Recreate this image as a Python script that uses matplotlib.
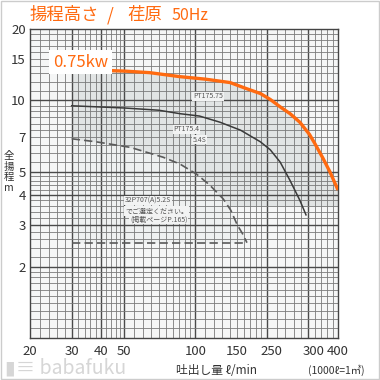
import numpy as np
import matplotlib
matplotlib.use("Agg")
import matplotlib.pyplot as plt

plt.rcParams['font.family'] = ['Noto Sans CJK JP', 'DejaVu Sans']

# ---- data ----
orange_x = [30, 40, 50, 64, 86, 110, 140, 165, 188, 207, 228, 251, 276, 303, 319, 346, 370, 400]
orange_y = [13.5, 13.4, 13.3, 13.1, 12.6, 12.3, 11.9, 11.2, 10.7, 10.1, 9.4, 8.8, 8.1, 7.2, 6.6, 5.7, 5.0, 4.2]

pt4_x = [30, 50, 70, 86, 104, 127, 155, 188, 207, 228, 251, 276, 293]
pt4_y = [9.5, 9.3, 9.1, 8.8, 8.6, 8.1, 7.5, 6.7, 6.2, 5.5, 4.6, 3.8, 3.3]

p32_x = [30, 38, 53, 73, 86, 101, 115, 131, 141, 150, 158, 165]
p32_y = [6.9, 6.7, 6.35, 5.77, 5.4, 4.9, 4.4, 3.85, 3.45, 3.0, 2.75, 2.52]
p32_floor = 2.52

shade_floor = 3.6

xtick_pos = [20, 30, 40, 50, 100, 150, 210, 315, 400]
xtick_labels = ['20', '30', '40', '50', '100', '150', '250', '300', '400']
ytick_vals = [20, 15, 10, 7, 5, 4, 3, 2]
ytick_labels = ['20', '15', '10', '7', '5', '4', '3', '2']

title_parts = ['揚程高さ', '/', '荏原', '50Hz']
power_label = '0.75kw'
ylabel = '全\n揚\n程\nm'
xlabel = '吐出し量 ℓ/min'
unit_note = '(1000ℓ=1㎥)'

ORANGE = '#ff6a10'

# ---- figure ----
fig = plt.figure(figsize=(3.8, 3.8), dpi=100)
ax = fig.add_axes([30/380, 42/380, 308/380, 309/380])
ax.set_xscale('log')
ax.set_yscale('log')
ax.set_xlim(20, 400)
ax.set_ylim(1, 20)
ax.set_facecolor('#f5f6f6')

# shaded selection region
ax.fill_between(orange_x, shade_floor, orange_y, color='#e1e4e4', zorder=0.5, lw=0)
ax.fill_between(p32_x, p32_floor, p32_y, color='#eef0f0', zorder=0.6, lw=0)

# grid (graph paper)
vminor = list(np.arange(20, 50, 2)) + list(np.arange(50, 100, 5)) + \
    list(np.arange(100, 200, 10)) + list(np.arange(200, 401, 20))
for v in vminor:
    ax.axvline(v, color='#7a7a7a', lw=0.6, zorder=1)
for v in [30, 40, 50, 100, 200, 300]:
    ax.axvline(v, color='#4a4a4a', lw=1.0, zorder=1)
hminor = list(np.arange(1, 2, 0.1)) + list(np.arange(2, 5, 0.2)) + \
    list(np.arange(5, 10, 0.5)) + list(np.arange(10, 20.01, 1))
for h in hminor:
    ax.axhline(h, color='#7a7a7a', lw=0.6, zorder=1)
for h in [2, 3, 4, 5, 10]:
    ax.axhline(h, color='#4a4a4a', lw=1.0, zorder=1)

# curves
ax.plot(p32_x, p32_y, color='#5a5a5a', lw=1.2, ls=(0, (5, 2.5)), zorder=3)
ax.plot([p32_x[0], p32_x[-1]], [p32_floor, p32_floor], color='#5a5a5a', lw=1.2,
        ls=(0, (5, 2.5)), zorder=3)
ax.plot(pt4_x, pt4_y, color='#3a3a3a', lw=1.1, zorder=3)
ax.plot(orange_x, orange_y, color=ORANGE, lw=2.4, zorder=4, solid_capstyle='butt',
        solid_joinstyle='round')

# small labels
small = dict(fontsize=5, color='#555555', zorder=5,
             bbox=dict(facecolor='#f2f3f3', edgecolor='none', pad=0.6))
ax.text(113, 10.4, 'PT175.75', ha='center', va='center', **small)
ax.text(91.5, 7.55, 'PT175.4', ha='center', va='center', **small)
ax.text(104, 6.85, '5.4S', ha='center', va='center', **small)
ax.text(50.4, 3.79, '32P707(A)5.2S', ha='left', va='center', **small)
ax.text(50.4, 3.43, 'でご選定ください。', ha='left', va='center', **small)
ax.text(53, 3.16, '(掲載ページP.165)', ha='left', va='center', **small)

ax.text(25.0, 14.5, power_label, fontsize=12, color=ORANGE, ha='left', va='center',
        zorder=6, bbox=dict(facecolor='white', edgecolor='none', pad=2.5))

# axes styling
for s in ax.spines.values():
    s.set_color('#444444')
    s.set_linewidth(1.0)
ax.set_xticks(xtick_pos)
ax.set_xticklabels(xtick_labels)
ax.set_yticks(ytick_vals)
ax.set_yticklabels(ytick_labels)
ax.xaxis.set_minor_locator(matplotlib.ticker.NullLocator())
ax.yaxis.set_minor_locator(matplotlib.ticker.NullLocator())
ax.tick_params(axis='both', length=0, labelsize=9.5, labelcolor='#333333')
ax.tick_params(axis='x', pad=5)
ax.tick_params(axis='y', pad=3)

# title in pieces
ty = 1 - 15/380
fig.text(30/380, ty, title_parts[0], fontsize=12.5, color=ORANGE, ha='left', va='center')
fig.text(110/380, ty, title_parts[1], fontsize=12.5, color=ORANGE, ha='center', va='center')
fig.text(127/380, ty, title_parts[2], fontsize=12.5, color=ORANGE, ha='left', va='center')
fig.text(172/380, ty, title_parts[3], fontsize=11.5, color=ORANGE, ha='left', va='center')

fig.text(9/380, 1 - 172/380, ylabel, fontsize=7.5, color='#333333', ha='center', va='center',
         linespacing=1.05)
fig.text(217/380, 1 - 370/380, xlabel, fontsize=8.5, color='#333333', ha='center', va='center')
fig.text(336/380, 1 - 370/380, unit_note, fontsize=7.5, color='#333333', ha='center', va='center')
fig.text(5/380, 1 - 368/380, '▮≡ babafuku', fontsize=14, color='#d6d6d6', ha='left', va='center')

# outer border
fig.patches.append(matplotlib.patches.Rectangle((0.002, 0.002), 0.996, 0.996,
                   transform=fig.transFigure, fill=False, edgecolor='#cccccc', lw=1))

fig.savefig('out.png', dpi=100)
